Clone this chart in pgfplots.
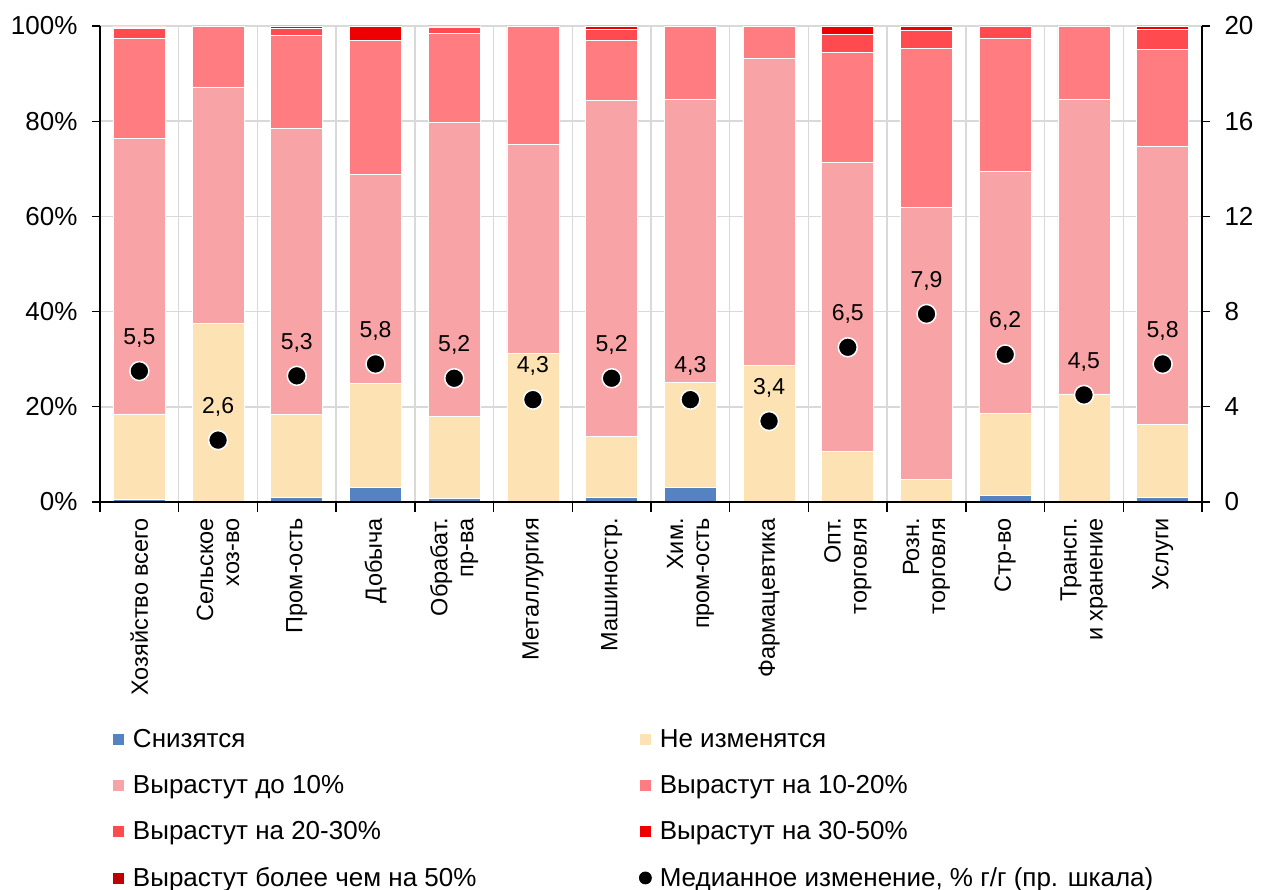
\documentclass[border=0pt]{standalone}
\usepackage{pgfplots}
\pgfplotsset{compat=1.18}
\usepackage{pgfplotstable}
\usepackage{fontspec}
\setmainfont{Liberation Sans}
\definecolor{cDec}{HTML}{5583C1}
\definecolor{cSame}{HTML}{FDE2B4}
\definecolor{cUp10}{HTML}{F8A3A5}
\definecolor{cUp20}{HTML}{FF7C80}
\definecolor{cUp30}{HTML}{FF4B4F}
\definecolor{cUp50}{HTML}{EE0000}
\definecolor{cOver}{HTML}{C00000}
\definecolor{cGrid}{HTML}{D9D9D9}
\pgfplotstableread{
x dec same upto10 t1020 t2030 t3050 over50 med lbl
0 0.5 18.0 57.9 21.0 2.0 0.4 0.2 5.5 5,5
1 0 37.6 49.6 12.8 0 0 0 2.6 2,6
2 0.9 17.4 60.2 19.6 1.4 0.5 0 5.3 5,3
3 3.0 21.9 43.9 28.2 0 3.0 0 5.8 5,8
4 0.8 17.1 61.9 18.7 1.3 0.2 0 5.2 5,2
5 0 31.3 43.8 24.9 0 0 0 4.3 4,3
6 0.9 12.8 70.6 12.6 2.3 0.8 0 5.2 5,2
7 3.0 22.1 59.4 15.5 0 0 0 4.3 4,3
8 0 28.6 64.5 6.9 0 0 0 3.4 3,4
9 0 10.6 60.7 23.1 3.8 1.8 0 6.5 6,5
10 0 4.8 57.1 33.4 3.7 1.0 0 7.9 7,9
11 1.3 17.3 50.8 28.0 2.6 0 0 6.2 6,2
12 0 22.7 61.9 15.4 0 0 0 4.5 4,5
13 0.9 15.3 58.6 20.3 4.1 0.8 0 5.8 5,8
}\data
\begin{document}
\begin{tikzpicture}[font=\fontsize{26}{29}\selectfont]
\begin{axis}[
  at={(0,0)}, anchor=south west,
  scale only axis, width=1102pt, height=476pt,
  ybar stacked, bar width=52pt,
  xmin=-0.5, xmax=13.5, ymin=0, ymax=100,
  axis x line*=bottom, axis y line*=left,
  axis line style={black, line width=1.3pt},
  tick align=outside,
  major tick length=8pt, minor tick length=10pt,
  xtick={0,...,13},
  xticklabels={Хозяйство всего,{Сельское\\хоз-во},Пром-ость,Добыча,{Обрабат.\\пр-ва},Металлургия,Машиностр.,{Хим.\\пром-ость},Фармацевтика,{Опт.\\торговля},{Розн.\\торговля},Стр-во,{Трансп.\\и хранение},Услуги},
  xticklabel style={rotate=90, anchor=east, align=right, inner sep=2pt, xshift=-6pt,
    font=\fontsize{23.5}{26}\selectfont},
  major x tick style={draw=none},
  minor xtick={-0.5,0.5,...,13.5},
  minor x tick style={black, line width=1.3pt},
  xminorgrids=true,
  minor x grid style={cGrid, line width=1.5pt},
  ytick={0,20,...,100},
  yticklabel={\pgfmathprintnumber{\tick}\%},
  yticklabel style={xshift=-11pt, font=\fontsize{26}{29}\selectfont},
  /pgf/number format/assume math mode=true,
  major y tick style={black, line width=1.3pt},
  ymajorgrids=true,
  major y grid style={cGrid, line width=1.5pt},
  every axis plot/.append style={draw=white, line width=0.8pt},
  legend columns=2,
  legend cell align=left,
  legend style={at={(0,0)}, anchor=north west, xshift=12pt, yshift=-225pt,
    draw=none, fill=none, row sep=22.5pt, inner sep=0pt, column sep=0pt,
    font=\fontsize{26}{29}\selectfont},
  legend image code/.code={\fill[#1] (0pt,-6pt) rectangle (12pt,6pt); \path (18pt,0pt);},
]
\addplot[fill=cDec] table[x=x,y=dec]{\data};
\addplot[fill=cSame] table[x=x,y=same]{\data};
\addplot[fill=cUp10] table[x=x,y=upto10]{\data};
\addplot[fill=cUp20] table[x=x,y=t1020]{\data};
\addplot[fill=cUp30] table[x=x,y=t2030]{\data};
\addplot[fill=cUp50] table[x=x,y=t3050]{\data};
\addplot[fill=cOver] table[x=x,y=over50]{\data};
\addlegendimage{legend image code/.code={\fill[black] (6pt,0pt) circle (6pt); \path (18pt,0pt);}}
\legend{\makebox[504pt][l]{Снизятся},Не изменятся,\makebox[504pt][l]{Вырастут до 10\%},Вырастут на 10-20\%,\makebox[504pt][l]{Вырастут на 20-30\%},Вырастут на 30-50\%,\makebox[504pt][l]{Вырастут более чем на 50\%},{Медианное изменение, \% г/г (пр. шкала)}}
\end{axis}
\begin{axis}[
  at={(0,0)}, anchor=south west,
  scale only axis, width=1102pt, height=476pt,
  xmin=-0.5, xmax=13.5, ymin=0, ymax=20,
  axis x line*=bottom, xtick=\empty, axis y line*=right,
  axis line style={black, line width=1.3pt},
  tick align=outside, major tick length=8pt,
  ytick={0,4,...,20},
  yticklabel style={xshift=11pt, font=\fontsize{26}{29}\selectfont},
  /pgf/number format/assume math mode=true,
  major y tick style={black, line width=1.3pt},
  clip=false,
]
\addplot[only marks, mark=*, mark size=9.5pt, mark options={fill=black, draw=white, line width=1.5pt},
  point meta=explicit symbolic, nodes near coords,
  nodes near coords style={anchor=south, yshift=21pt, inner sep=2pt, font=\fontsize{23}{26}\selectfont}]
  table[x=x,y=med,meta=lbl]{\data};
\end{axis}
\pgfresetboundingbox
\path (-100pt,-388pt) rectangle (1161pt,502pt);
\end{tikzpicture}
\end{document}
